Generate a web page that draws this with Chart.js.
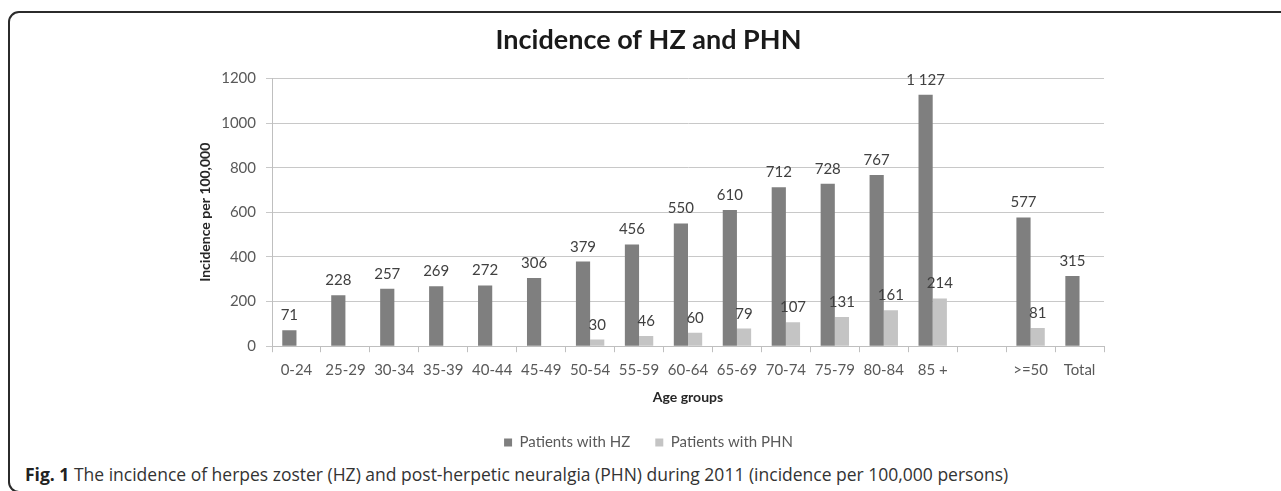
<!DOCTYPE html>
<html lang="en">
<head>
<meta charset="UTF-8">
<title>Incidence of HZ and PHN</title>
<script src="https://cdn.jsdelivr.net/npm/chart.js"></script>
<style>
    html, body { margin: 0; padding: 0; background: #fff; overflow: hidden; }
    #frame {
        position: absolute; left: 8px; top: 11px;
        width: 1300px; height: 478px;
        border: 2px solid #2b2b2b; border-radius: 11px;
    }
    #chartBox { position: absolute; left: 0; top: 0; width: 1296px; height: 460px; }
    #caption {
        position: absolute; left: 25px; top: 462px;
        font-family: "Open Sans", sans-serif; font-size: 17.5px; color: #333;
        white-space: nowrap;
    }
    #caption b { font-weight: 700; color: #222; }
</style>
</head>
<body>

<div id="frame"></div>
<div id="chartBox"><canvas id="hzChart"></canvas></div>
<div id="caption"><b>Fig. 1</b> The incidence of herpes zoster (HZ) and post-herpetic neuralgia (PHN) during 2011 (incidence per 100,000 persons)</div>

<script>
// age groups (empty slot separates the summary columns)
const ageGroups = ["0-24", "25-29", "30-34", "35-39", "40-44", "45-49", "50-54", "55-59",
                   "60-64", "65-69", "70-74", "75-79", "80-84", "85 +", "", ">=50", "Total"];

// incidence per 100,000
const hzValues  = [71, 228, 257, 269, 272, 306, 379, 456, 550, 610, 712, 728, 767, 1127, null, 577, 315];
const phnValues = [null, null, null, null, null, null, 30, 46, 60, 79, 107, 131, 161, 214, null, 81, null];

const yTicks = [0, 200, 400, 600, 800, 1000, 1200];

// "1127" -> "1 127"
function fmt(v) {
    return String(v).replace(/\B(?=(\d{3})+(?!\d))/g, " ");
}

// values written above each bar
const barLabels = {
    id: "barLabels",
    afterDatasetsDraw(chart) {
        const ctx = chart.ctx;
        ctx.save();
        ctx.font = "15px Lato";
        ctx.fillStyle = "#404040";
        ctx.textAlign = "center";
        ctx.textBaseline = "alphabetic";
        chart.data.datasets.forEach((ds, i) => {
            chart.getDatasetMeta(i).data.forEach((bar, j) => {
                const v = ds.data[j];
                if (v === null || v === undefined) return;
                ctx.fillText(fmt(v), bar.x, bar.y - 10);
            });
        });
        ctx.restore();
    }
};

Chart.defaults.font.family = "Lato";
Chart.defaults.color = "#595959";

new Chart(document.getElementById("hzChart"), {
    type: "bar",
    data: {
        labels: ageGroups,
        datasets: [
            { label: "Patients with HZ",  data: hzValues,  backgroundColor: "#7f7f7f" },
            { label: "Patients with PHN", data: phnValues, backgroundColor: "#c4c4c4" }
        ]
    },
    options: {
        responsive: true,
        maintainAspectRatio: false,
        animation: false,
        categoryPercentage: 0.58,
        barPercentage: 1.0,
        layout: { padding: { left: 193, right: 192, top: 0, bottom: 0 } },
        plugins: {
            title: {
                display: true,
                text: "Incidence of HZ and PHN",
                color: "#1a1a1a",
                font: { size: 27, weight: "bold" },
                padding: { top: 24, bottom: 22 }
            },
            legend: {
                position: "bottom",
                labels: {
                    boxWidth: 8, boxHeight: 8,
                    padding: 25,
                    color: "#595959",
                    font: { size: 15 }
                }
            },
            tooltip: { enabled: false }
        },
        scales: {
            x: {
                grid: { drawOnChartArea: false, drawTicks: true, tickLength: 6, color: "#bfbfbf", offset: true },
                border: { color: "#bfbfbf" },
                ticks: { font: { size: 15 }, color: "#595959", padding: 9, maxRotation: 0, autoSkip: false },
                title: {
                    display: true, text: "Age groups",
                    color: "#262626", font: { size: 14, weight: "bold" },
                    padding: { top: 1, bottom: 4 }
                }
            },
            y: {
                min: 0, max: 1200,
                afterBuildTicks(scale) { scale.ticks = yTicks.map(v => ({ value: v })); },
                afterFit(scale) { scale.width = 79; },
                grid: { color: "#c8c8c8", tickLength: 6 },
                border: { color: "#bfbfbf" },
                ticks: { font: { size: 15 }, color: "#595959", padding: 10, callback: v => String(v) },
                title: {
                    display: true, text: "Incidence per 100,000",
                    color: "#262626", font: { size: 14, weight: "bold" },
                    padding: { top: 4, bottom: 4 }
                }
            }
        }
    },
    plugins: [barLabels]
});
</script>
</body>
</html>
